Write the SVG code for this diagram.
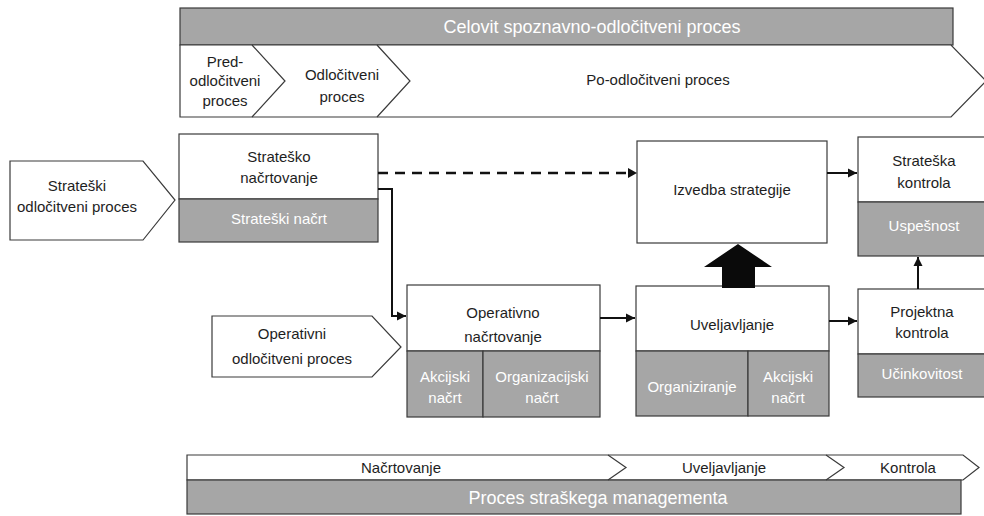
<svg xmlns="http://www.w3.org/2000/svg" width="984" height="516" viewBox="0 0 984 516">
  <defs>
    <marker id="arrow" markerUnits="userSpaceOnUse" markerWidth="10" markerHeight="10" refX="9" refY="5" orient="auto">
      <path d="M0,0.5 L9,5 L0,9.5 Z" fill="#111"/>
    </marker>
    <style>
      .box { fill: #ffffff; stroke: #3a3a3a; stroke-width: 1.2; }
      .shade { fill: #a6a6a6; stroke: #3a3a3a; stroke-width: 1.2; }
      .t { font-family: "Liberation Sans", Arial, sans-serif; font-size: 15px; fill: #1e1e1e; text-anchor: middle; }
      .w { fill: #ffffff; }
      .big { font-size: 18px; }
      .line { fill: none; stroke: #111; stroke-width: 2; }
      .dash { fill: none; stroke: #111; stroke-width: 2.5; stroke-dasharray: 10 7; }
    </style>
  </defs>

  <!-- Top band: overall decision process -->
  <g id="celovit">
    <rect class="shade" x="180" y="8" width="773" height="37"/>
    <text class="t w big" x="592" y="33">Celovit spoznavno-odločitveni proces</text>
    <path class="box" d="M180,45 L951,45 L986,81 L951,117 L180,117 Z"/>
  </g>
  <g id="pred">
    <path fill="none" stroke="#3a3a3a" stroke-width="1.2" d="M252,45 L285,81 L252,117"/>
    <text class="t" x="225" y="67">Pred-</text>
    <text class="t" x="225" y="86">odločitveni</text>
    <text class="t" x="225" y="106">proces</text>
  </g>
  <g id="odlocitveni">
    <path fill="none" stroke="#3a3a3a" stroke-width="1.2" d="M377,45 L410,81 L377,117"/>
    <text class="t" x="342" y="80">Odločitveni</text>
    <text class="t" x="342" y="102">proces</text>
  </g>
  <g id="po">
    <text class="t" x="658" y="85">Po-odločitveni proces</text>
  </g>

  <!-- Inputs -->
  <g id="strateski-proces">
    <path class="box" d="M10,161 L143,161 L175,200 L143,240 L10,240 Z"/>
    <text class="t" x="77" y="191">Strateški</text>
    <text class="t" x="77" y="212">odločitveni proces</text>
  </g>
  <g id="operativni-proces">
    <path class="box" d="M212,316 L372,316 L401,347 L372,377 L212,377 Z"/>
    <text class="t" x="292" y="339">Operativni</text>
    <text class="t" x="292" y="364">odločitveni proces</text>
  </g>

  <!-- Planning -->
  <g id="stratesko-nacrtovanje">
    <rect class="box" x="179" y="134" width="199" height="65"/>
    <rect class="shade" x="179" y="199" width="199" height="43"/>
    <text class="t" x="279" y="162">Strateško</text>
    <text class="t" x="279" y="183">načrtovanje</text>
    <text class="t w" x="279" y="224">Strateški načrt</text>
  </g>
  <g id="operativno-nacrtovanje">
    <rect class="box" x="407" y="285" width="193" height="66"/>
    <rect class="shade" x="407" y="351" width="76" height="66"/>
    <rect class="shade" x="483" y="351" width="117" height="66"/>
    <text class="t" x="503" y="318">Operativno</text>
    <text class="t" x="503" y="342">načrtovanje</text>
    <text class="t w" x="445" y="382">Akcijski</text>
    <text class="t w" x="445" y="403">načrt</text>
    <text class="t w" x="542" y="382">Organizacijski</text>
    <text class="t w" x="542" y="403">načrt</text>
  </g>

  <!-- Implementation -->
  <g id="izvedba">
    <rect class="box" x="637" y="141" width="190" height="102"/>
    <text class="t" x="732" y="195">Izvedba strategije</text>
  </g>
  <g id="uveljavljanje">
    <rect class="box" x="636" y="286" width="193" height="65"/>
    <rect class="shade" x="636" y="351" width="112" height="65"/>
    <rect class="shade" x="748" y="351" width="81" height="65"/>
    <text class="t" x="732" y="330">Uveljavljanje</text>
    <text class="t w" x="692" y="392">Organiziranje</text>
    <text class="t w" x="788" y="382">Akcijski</text>
    <text class="t w" x="788" y="403">načrt</text>
  </g>

  <!-- Control -->
  <g id="strateska-kontrola">
    <rect class="box" x="858" y="137" width="132" height="65"/>
    <rect class="shade" x="858" y="202" width="132" height="54"/>
    <text class="t" x="924" y="166">Strateška</text>
    <text class="t" x="924" y="188">kontrola</text>
    <text class="t w" x="924" y="231">Uspešnost</text>
  </g>
  <g id="projektna-kontrola">
    <rect class="box" x="858" y="289" width="132" height="65"/>
    <rect class="shade" x="858" y="354" width="132" height="43"/>
    <text class="t" x="922" y="317">Projektna</text>
    <text class="t" x="922" y="338">kontrola</text>
    <text class="t w" x="922" y="379">Učinkovitost</text>
  </g>

  <!-- Connectors -->
  <g id="connectors">
    <line class="dash" x1="378" y1="173" x2="628" y2="173"/>
    <path d="M628,168 L637,173 L628,178 Z" fill="#111"/>
    <path class="line" d="M378,189 L392,189 L392,316 L406,316" marker-end="url(#arrow)"/>
    <line class="line" x1="600" y1="318" x2="635" y2="318" marker-end="url(#arrow)"/>
    <line class="line" x1="829" y1="321" x2="857" y2="321" marker-end="url(#arrow)"/>
    <line class="line" x1="827" y1="173" x2="857" y2="173" marker-end="url(#arrow)"/>
    <line class="line" x1="918" y1="289" x2="918" y2="257" marker-end="url(#arrow)"/>
    <polygon points="722,288 722,267 704,267 738,244 772,267 755,267 755,288" fill="#0a0a0a"/>
  </g>

  <!-- Bottom band: strategic management process -->
  <g id="management">
    <path class="box" d="M187,455 L963,455 L979,467.5 L963,480 L187,480 Z"/>
    <rect class="shade" x="187" y="480" width="774" height="34"/>
    <text class="t w big" x="598" y="504">Proces straškega managementa</text>
  </g>
  <g id="nacrtovanje">
    <path fill="none" stroke="#3a3a3a" stroke-width="1.2" d="M608,455 L626,467.5 L608,480"/>
    <text class="t" x="401" y="473">Načrtovanje</text>
  </g>
  <g id="uveljavljanje-faza">
    <path fill="none" stroke="#3a3a3a" stroke-width="1.2" d="M826,455 L844,467.5 L826,480"/>
    <text class="t" x="724" y="473">Uveljavljanje</text>
  </g>
  <g id="kontrola-faza">
    <text class="t" x="908" y="473">Kontrola</text>
  </g>
</svg>
